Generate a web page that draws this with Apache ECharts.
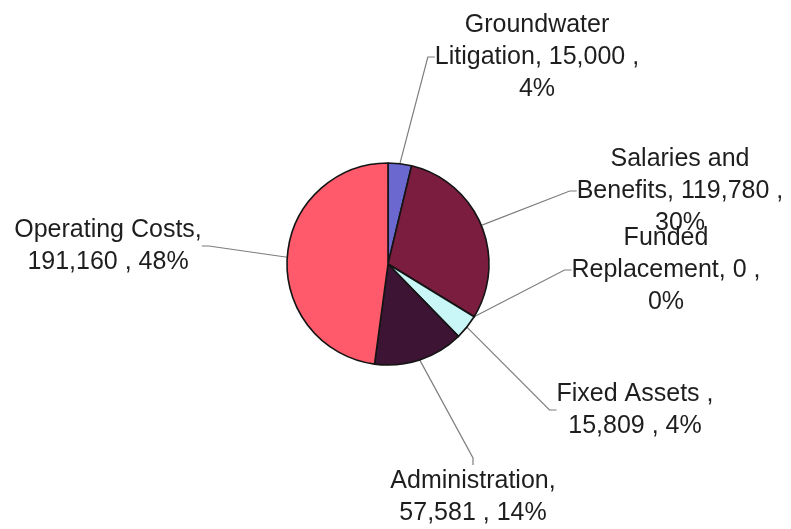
<!DOCTYPE html>
<html>
<head>
<meta charset="utf-8">
<title>Budget breakdown</title>
<script src="https://cdn.jsdelivr.net/npm/echarts@6/dist/echarts.min.js"></script>
<style>
  html, body { margin: 0; padding: 0; background: #ffffff; }
  #chart { width: 791px; height: 529px; }
</style>
</head>
<body>
<div id="chart"></div>
<script>
// Budget categories, clockwise from 12 o'clock. A "\n" marks where a long name wraps.
const categories = [
  'Groundwater\nLitigation',
  'Salaries and\nBenefits',
  'Funded\nReplacement',
  'Fixed Assets ',
  'Administration',
  'Operating Costs'
];
const amounts = [15000, 119780, 0, 15809, 57581, 191160];

// Slice fills
const sliceColors = ['#6b69cf', '#7b1d3f', '#8f9bd6', '#c9f6f6', '#3d1433', '#fe5a6b'];

// Where each label block is centred (pixels)
const labelCenters = [
  [537, 57],
  [680, 191],
  [666, 270],
  [635, 410],
  [473, 497],
  [108, 246]
];

const chart = echarts.init(document.getElementById('chart'), null, { renderer: 'canvas' });

function labelText(p) {
  const value = p.value.toLocaleString('en-US');
  const pct = Math.round(p.percent) + '%';
  if (p.name.indexOf('\n') >= 0) {
    return p.name + ', ' + value + ' ,\n' + pct;
  }
  return p.name + ',\n' + value + ' , ' + pct;
}

chart.setOption({
  backgroundColor: '#ffffff',
  animation: false,
  series: [{
    type: 'pie',
    center: [388, 264],
    radius: 101,
    startAngle: 90,
    clockwise: true,
    avoidLabelOverlap: false,
    emphasis: { disabled: true },
    data: categories.map((name, i) => ({
      name: name,
      value: amounts[i],
      itemStyle: { color: sliceColors[i] }
    })),
    itemStyle: {
      borderColor: '#141414',
      borderWidth: 1.6
    },
    label: {
      show: true,
      position: 'outside',
      formatter: labelText,
      fontFamily: '"Liberation Sans", Arial, sans-serif',
      fontSize: 25,
      lineHeight: 32,
      color: '#1e1e1e'
    },
    labelLine: {
      show: true,
      length: 20,
      length2: 7,
      smooth: false,
      lineStyle: { color: '#7d7d7d', width: 1.2 }
    },
    labelLayout: function (params) {
      const c = labelCenters[params.dataIndex];
      return {
        x: c[0],
        y: c[1],
        align: 'center',
        verticalAlign: 'middle'
      };
    }
  }]
});
</script>
</body>
</html>
